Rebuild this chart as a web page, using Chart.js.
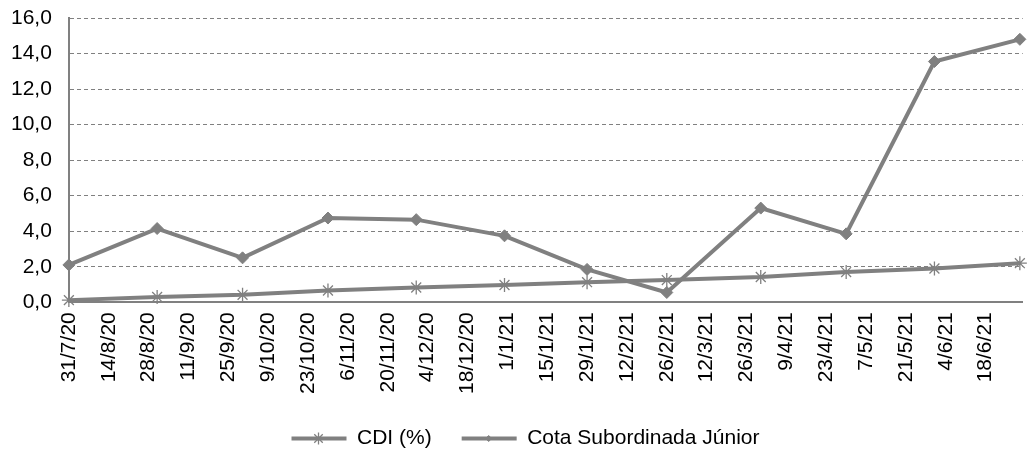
<!DOCTYPE html>
<html>
<head>
<meta charset="utf-8">
<script src="https://cdn.jsdelivr.net/npm/chart.js@4/dist/chart.umd.min.js"></script>
<style>
    html, body { margin: 0; padding: 0; background: #fff; }
    #wrap { width: 1031px; height: 452px; position: relative; }
</style>
</head>
<body>
<div id="wrap"><canvas id="cotaChart"></canvas></div>
<script>
const dates = ["2020-07-31", "2020-08-31", "2020-09-30", "2020-10-30", "2020-11-30", "2020-12-31",
    "2021-01-29", "2021-02-26", "2021-03-31", "2021-04-30", "2021-05-31", "2021-06-30"];
const cdi = [0.12, 0.3, 0.42, 0.66, 0.83, 0.97, 1.13, 1.25, 1.42, 1.7, 1.9, 2.2];
const cotaJunior = [2.1, 4.15, 2.5, 4.74, 4.65, 3.74, 1.85, 0.55, 5.3, 3.85, 13.55, 14.8];
const tickLabels = ["31/7/20", "14/8/20", "28/8/20", "11/9/20", "25/9/20", "9/10/20", "23/10/20",
    "6/11/20", "20/11/20", "4/12/20", "18/12/20", "1/1/21", "15/1/21", "29/1/21", "12/2/21",
    "26/2/21", "12/3/21", "26/3/21", "9/4/21", "23/4/21", "7/5/21", "21/5/21", "4/6/21", "18/6/21"];

// days since first date, used as x on a linear scale (no date adapter available)
const start = Date.parse(dates[0]);
const dayOf = (d) => Math.round((Date.parse(d) - start) / 86400000);
const toPoints = (vals) => vals.map((v, i) => ({ x: dayOf(dates[i]), y: v }));

const grey = "#808080";
Chart.defaults.font.family = "'Liberation Sans', Arial, sans-serif";
Chart.defaults.font.size = 21;
Chart.defaults.color = "#000";

// nudges the legend a bit right and draws the series marker on each legend line
const legendMarkers = {
    id: "legendMarkers",
    afterLayout(chart) {
        const lg = chart.legend;
        if (!lg) return;
        lg.left += 16;
        lg.right += 16;
    },
    afterDraw(chart) {
        const lg = chart.legend;
        if (!lg || !lg.legendHitBoxes || !Chart.helpers || !Chart.helpers.drawPoint) return;
        const c = chart.ctx;
        lg.legendHitBoxes.forEach((box, i) => {
            const ds = chart.data.datasets[i];
            c.save();
            c.strokeStyle = grey;
            c.fillStyle = grey;
            c.lineWidth = ds.pointBorderWidth;
            Chart.helpers.drawPoint(c, {
                pointStyle: ds.pointStyle,
                radius: ds.legendRadius,
                borderWidth: ds.pointBorderWidth,
                rotation: 0,
            }, box.left + 27, box.top + box.height / 2);
            c.restore();
        });
    },
};

const ctx = document.getElementById("cotaChart").getContext("2d");
new Chart(ctx, {
    type: "line",
    data: {
        datasets: [
            {
                label: "CDI (%)",
                data: toPoints(cdi),
                borderColor: grey,
                backgroundColor: grey,
                borderWidth: 4,
                pointStyle: "star",
                pointRadius: 7,
                pointBorderWidth: 1.3,
                pointBorderColor: grey,
                legendRadius: 6,
                tension: 0,
                clip: false,
            },
            {
                label: "Cota Subordinada Júnior",
                data: toPoints(cotaJunior),
                borderColor: grey,
                backgroundColor: grey,
                borderWidth: 4,
                pointStyle: "rectRot",
                pointRadius: 6,
                pointBorderWidth: 1,
                pointBackgroundColor: grey,
                legendRadius: 3,
                tension: 0,
                clip: false,
            },
        ],
    },
    options: {
        responsive: true,
        maintainAspectRatio: false,
        animation: false,
        layout: { padding: { left: -6, right: 6, top: 18, bottom: 4 } },
        scales: {
            x: {
                type: "linear",
                min: 0,
                max: 335,
                grid: { display: false, drawTicks: false },
                border: { display: true, color: grey, width: 2 },
                ticks: {
                    stepSize: 14,
                    autoSkip: false,
                    maxRotation: 90,
                    minRotation: 90,
                    padding: 10,
                    callback: (v) => (v % 14 === 0 ? tickLabels[v / 14] || "" : ""),
                },
                afterFit: (s) => { s.paddingRight = 0; s.height -= 6; },
            },
            y: {
                min: 0,
                max: 16,
                grid: { color: grey, lineWidth: 1, drawTicks: false },
                border: { display: true, color: grey, width: 2, dash: [4, 3] },
                ticks: {
                    stepSize: 2,
                    padding: 17,
                    callback: (v) => v.toFixed(1).replace(".", ","),
                },
                afterFit: (s) => { s.paddingTop = 0; },
            },
        },
        plugins: {
            legend: {
                position: "bottom",
                maxHeight: 50,
                labels: {
                    boxWidth: 55,
                    boxHeight: 4,
                    padding: 30,
                    generateLabels: (chart) =>
                        Chart.defaults.plugins.legend.labels.generateLabels(chart)
                            .map((l) => ({ ...l, lineWidth: 0 })),
                },
            },
            tooltip: { enabled: false },
        },
    },
    plugins: [legendMarkers],
});
</script>
</body>
</html>
